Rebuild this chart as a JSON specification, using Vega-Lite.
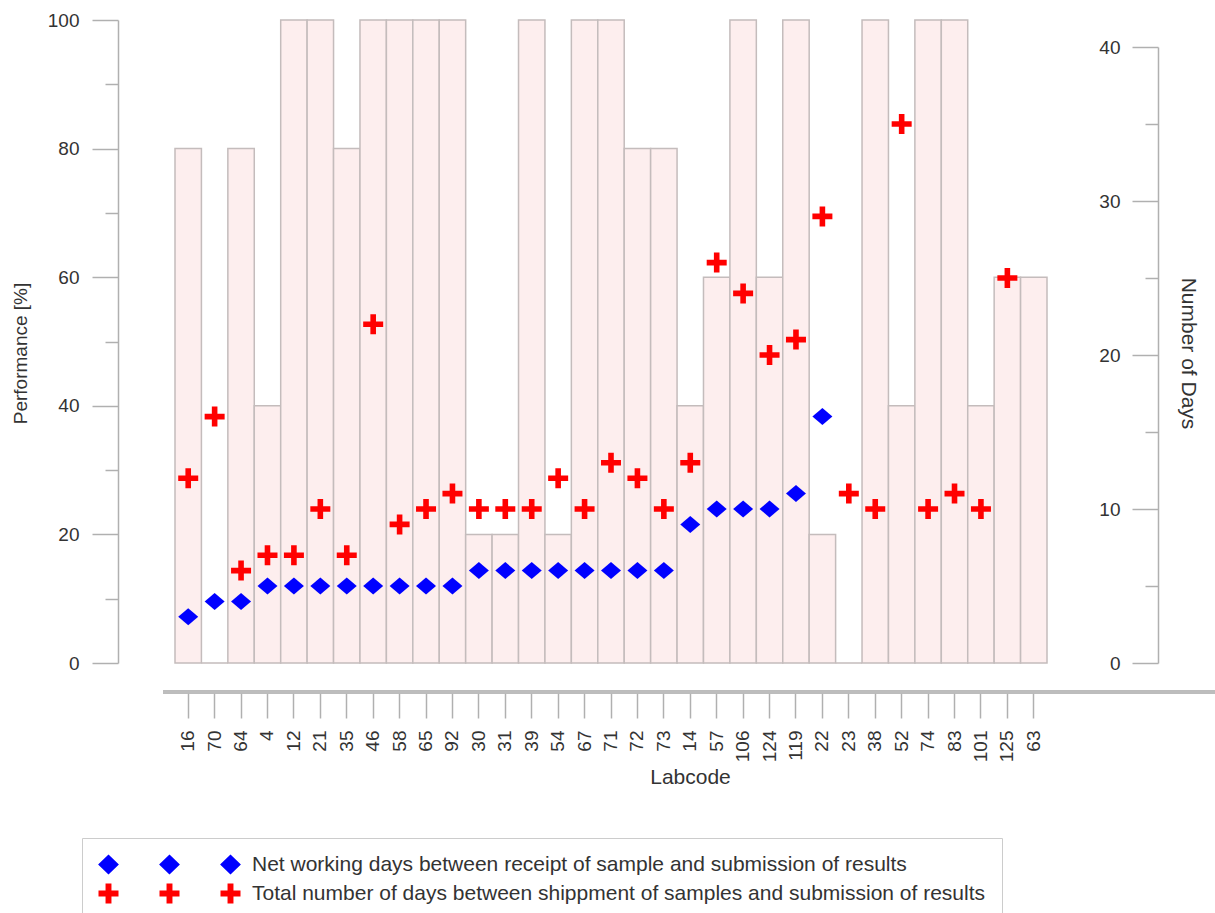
{
  "$schema": "https://vega.github.io/schema/vega-lite/v6.json",
  "autosize": {"type": "none"},
  "padding": {"left": 163, "top": 20, "right": 0, "bottom": 250},
  "width": 1052,
  "height": 643,
  "config": {
    "view": {"stroke": null},
    "font": "Liberation Sans",
    "axis": {"grid": false, "labelFont": "Liberation Sans", "titleFont": "Liberation Sans", "labelColor": "#333333", "titleColor": "#333333", "titleFontWeight": "normal", "domainColor": "#b0b0b0", "tickColor": "#b0b0b0", "domainWidth": 1.5, "tickWidth": 1.5}
  },
  "datasets": {
    "bars": [
      {"lab": "16", "perf": 80}, {"lab": "70", "perf": 0}, {"lab": "64", "perf": 80}, {"lab": "4", "perf": 40},
      {"lab": "12", "perf": 100}, {"lab": "21", "perf": 100}, {"lab": "35", "perf": 80}, {"lab": "46", "perf": 100},
      {"lab": "58", "perf": 100}, {"lab": "65", "perf": 100}, {"lab": "92", "perf": 100}, {"lab": "30", "perf": 20},
      {"lab": "31", "perf": 20}, {"lab": "39", "perf": 100}, {"lab": "54", "perf": 20}, {"lab": "67", "perf": 100},
      {"lab": "71", "perf": 100}, {"lab": "72", "perf": 80}, {"lab": "73", "perf": 80}, {"lab": "14", "perf": 40},
      {"lab": "57", "perf": 60}, {"lab": "106", "perf": 100}, {"lab": "124", "perf": 60}, {"lab": "119", "perf": 100},
      {"lab": "22", "perf": 20}, {"lab": "23", "perf": 0}, {"lab": "38", "perf": 100}, {"lab": "52", "perf": 40},
      {"lab": "74", "perf": 100}, {"lab": "83", "perf": 100}, {"lab": "101", "perf": 40}, {"lab": "125", "perf": 60},
      {"lab": "63", "perf": 60}
    ],
    "points": [
      {"lab": "16", "series": "Net working days between receipt of sample and submission of results", "days": 3},
      {"lab": "70", "series": "Net working days between receipt of sample and submission of results", "days": 4},
      {"lab": "64", "series": "Net working days between receipt of sample and submission of results", "days": 4},
      {"lab": "4", "series": "Net working days between receipt of sample and submission of results", "days": 5},
      {"lab": "12", "series": "Net working days between receipt of sample and submission of results", "days": 5},
      {"lab": "21", "series": "Net working days between receipt of sample and submission of results", "days": 5},
      {"lab": "35", "series": "Net working days between receipt of sample and submission of results", "days": 5},
      {"lab": "46", "series": "Net working days between receipt of sample and submission of results", "days": 5},
      {"lab": "58", "series": "Net working days between receipt of sample and submission of results", "days": 5},
      {"lab": "65", "series": "Net working days between receipt of sample and submission of results", "days": 5},
      {"lab": "92", "series": "Net working days between receipt of sample and submission of results", "days": 5},
      {"lab": "30", "series": "Net working days between receipt of sample and submission of results", "days": 6},
      {"lab": "31", "series": "Net working days between receipt of sample and submission of results", "days": 6},
      {"lab": "39", "series": "Net working days between receipt of sample and submission of results", "days": 6},
      {"lab": "54", "series": "Net working days between receipt of sample and submission of results", "days": 6},
      {"lab": "67", "series": "Net working days between receipt of sample and submission of results", "days": 6},
      {"lab": "71", "series": "Net working days between receipt of sample and submission of results", "days": 6},
      {"lab": "72", "series": "Net working days between receipt of sample and submission of results", "days": 6},
      {"lab": "73", "series": "Net working days between receipt of sample and submission of results", "days": 6},
      {"lab": "14", "series": "Net working days between receipt of sample and submission of results", "days": 9},
      {"lab": "57", "series": "Net working days between receipt of sample and submission of results", "days": 10},
      {"lab": "106", "series": "Net working days between receipt of sample and submission of results", "days": 10},
      {"lab": "124", "series": "Net working days between receipt of sample and submission of results", "days": 10},
      {"lab": "119", "series": "Net working days between receipt of sample and submission of results", "days": 11},
      {"lab": "22", "series": "Net working days between receipt of sample and submission of results", "days": 16},
      {"lab": "16", "series": "Total number of days between shippment of samples and submission of results", "days": 12},
      {"lab": "70", "series": "Total number of days between shippment of samples and submission of results", "days": 16},
      {"lab": "64", "series": "Total number of days between shippment of samples and submission of results", "days": 6},
      {"lab": "4", "series": "Total number of days between shippment of samples and submission of results", "days": 7},
      {"lab": "12", "series": "Total number of days between shippment of samples and submission of results", "days": 7},
      {"lab": "21", "series": "Total number of days between shippment of samples and submission of results", "days": 10},
      {"lab": "35", "series": "Total number of days between shippment of samples and submission of results", "days": 7},
      {"lab": "46", "series": "Total number of days between shippment of samples and submission of results", "days": 22},
      {"lab": "58", "series": "Total number of days between shippment of samples and submission of results", "days": 9},
      {"lab": "65", "series": "Total number of days between shippment of samples and submission of results", "days": 10},
      {"lab": "92", "series": "Total number of days between shippment of samples and submission of results", "days": 11},
      {"lab": "30", "series": "Total number of days between shippment of samples and submission of results", "days": 10},
      {"lab": "31", "series": "Total number of days between shippment of samples and submission of results", "days": 10},
      {"lab": "39", "series": "Total number of days between shippment of samples and submission of results", "days": 10},
      {"lab": "54", "series": "Total number of days between shippment of samples and submission of results", "days": 12},
      {"lab": "67", "series": "Total number of days between shippment of samples and submission of results", "days": 10},
      {"lab": "71", "series": "Total number of days between shippment of samples and submission of results", "days": 13},
      {"lab": "72", "series": "Total number of days between shippment of samples and submission of results", "days": 12},
      {"lab": "73", "series": "Total number of days between shippment of samples and submission of results", "days": 10},
      {"lab": "14", "series": "Total number of days between shippment of samples and submission of results", "days": 13},
      {"lab": "57", "series": "Total number of days between shippment of samples and submission of results", "days": 26},
      {"lab": "106", "series": "Total number of days between shippment of samples and submission of results", "days": 24},
      {"lab": "124", "series": "Total number of days between shippment of samples and submission of results", "days": 20},
      {"lab": "119", "series": "Total number of days between shippment of samples and submission of results", "days": 21},
      {"lab": "22", "series": "Total number of days between shippment of samples and submission of results", "days": 29},
      {"lab": "23", "series": "Total number of days between shippment of samples and submission of results", "days": 11},
      {"lab": "38", "series": "Total number of days between shippment of samples and submission of results", "days": 10},
      {"lab": "52", "series": "Total number of days between shippment of samples and submission of results", "days": 35},
      {"lab": "74", "series": "Total number of days between shippment of samples and submission of results", "days": 10},
      {"lab": "83", "series": "Total number of days between shippment of samples and submission of results", "days": 11},
      {"lab": "101", "series": "Total number of days between shippment of samples and submission of results", "days": 10},
      {"lab": "125", "series": "Total number of days between shippment of samples and submission of results", "days": 25}
    ]
  },
  "layer": [
    {
      "layer": [
        {
          "data": {"name": "bars"},
          "mark": {"type": "bar", "fill": "#fdeeee", "stroke": "#c4bcbc", "strokeWidth": 1.5},
          "encoding": {
            "x": {
              "field": "lab", "type": "nominal", "sort": null,
              "scale": {"domain": ["16","70","64","4","12","21","35","46","58","65","92","30","31","39","54","67","71","72","73","14","57","106","124","119","22","23","38","52","74","83","101","125","63"], "paddingInner": 0, "paddingOuter": 0, "range": [12, 884]},
              "axis": {"title": "Labcode", "orient": "bottom", "offset": 29, "domain": false, "tickSize": 26, "labelAngle": -90, "labelAlign": "right", "labelBaseline": "middle", "labelPadding": 12, "labelFontSize": 19, "titleFontSize": 21, "titleX": 527, "titleY": 85, "titleBaseline": "middle"}
            },
            "y": {
              "field": "perf", "type": "quantitative",
              "scale": {"domain": [0, 100], "nice": false},
              "axis": {"title": "Performance [%]", "orient": "left", "offset": 45, "values": [0,10,20,30,40,50,60,70,80,90,100],
                "tickSize": {"condition": {"test": "datum.value % 20 === 0", "value": 26}, "value": 13},
                "labelExpr": "datum.value % 20 === 0 ? datum.label : ''",
                "labelFontSize": 19, "labelPadding": 13, "titleFontSize": 19, "titleX": -98, "titleY": 333, "titleAngle": -90, "titleAlign": "center", "titleBaseline": "middle"}
            }
          }
        },
        {
          "data": {"name": "bars"},
          "mark": {"type": "rule", "color": "#bdbdbd", "strokeWidth": 2.5},
          "encoding": {"y": {"datum": -4.5, "type": "quantitative"}}
        }
      ]
    },
    {
      "data": {"name": "points"},
      "layer": [
        {
          "mark": {"type": "point", "filled": true, "opacity": 1, "size": 256},
          "encoding": {
            "x": {
              "field": "lab", "type": "nominal", "sort": null,
              "scale": {"domain": ["16","70","64","4","12","21","35","46","58","65","92","30","31","39","54","67","71","72","73","14","57","106","124","119","22","23","38","52","74","83","101","125","63"], "paddingInner": 0, "paddingOuter": 0, "range": [12, 884]}
            },
            "y": {
              "field": "days", "type": "quantitative",
              "scale": {"domain": [0, 40], "nice": false, "range": [643, 27]},
              "axis": {"title": "Number of Days", "orient": "left", "offset": -995, "values": [0,5,10,15,20,25,30,35,40],
                "tickSize": {"condition": {"test": "datum.value % 10 === 0", "value": 26}, "value": 13},
                "labelExpr": "datum.value % 10 === 0 ? datum.label : ''",
                "labelFontSize": 19, "labelPadding": 12, "titleFontSize": 21, "titleX": 29, "titleY": 333, "titleAngle": 90, "titleAlign": "center", "titleBaseline": "middle"}
            },
            "color": {"condition": {"test": "indexof(datum.series, 'Net') === 0", "value": "#0000ff"}, "value": "#ff0000"},
            "shape": {"condition": {"test": "indexof(datum.series, 'Net') === 0", "value": "M0,-1.06L1.25,0L0,1.06L-1.25,0Z"}, "value": "M-0.35,-1.25H0.35V-0.35H1.25V0.35H0.35V1.25H-0.35V0.35H-1.25V-0.35H-0.35Z"}
          }
        },
        {
          "mark": {"type": "point", "filled": true, "opacity": 0, "size": 256},
          "encoding": {
            "color": {
              "field": "series", "type": "nominal",
              "scale": {"domain": ["Net working days between receipt of sample and submission of results", "Total number of days between shippment of samples and submission of results"], "range": ["#0000ff", "#ff0000"]},
              "legend": {
                "title": null, "orient": "none", "legendX": -81, "legendY": 818,
                "padding": 16, "strokeColor": "#cccccc", "fillColor": "#ffffff", "symbolOpacity": 1,
                "symbolSize": 256, "symbolStrokeWidth": 0, "labelOffset": 133, "labelFontSize": 21, "labelColor": "#333333", "labelLimit": 0, "rowPadding": 7
              }
            },
            "shape": {
              "field": "series", "type": "nominal",
              "scale": {"domain": ["Net working days between receipt of sample and submission of results", "Total number of days between shippment of samples and submission of results"], "range": ["M0,-1.25L1.3,0L0,1.25L-1.3,0Z M7.625,-1.25L8.925,0L7.625,1.25L6.325,0Z M15.25,-1.25L16.55,0L15.25,1.25L13.95,0Z", "M-0.37,-1.25H0.37V-0.37H1.25V0.37H0.37V1.25H-0.37V0.37H-1.25V-0.37H-0.37Z M7.255,-1.25H7.995V-0.37H8.875V0.37H7.995V1.25H7.255V0.37H6.375V-0.37H7.255Z M14.88,-1.25H15.62V-0.37H16.5V0.37H15.62V1.25H14.88V0.37H14V-0.37H14.88Z"]},
              "legend": {
                "title": null, "orient": "none", "legendX": -81, "legendY": 818,
                "padding": 16, "strokeColor": "#cccccc", "fillColor": "#ffffff", "symbolOpacity": 1,
                "symbolSize": 256, "symbolStrokeWidth": 0, "labelOffset": 133, "labelFontSize": 21, "labelColor": "#333333", "labelLimit": 0, "rowPadding": 7
              }
            }
          }
        }
      ]
    }
  ],
  "resolve": {"scale": {"y": "independent"}, "axis": {"y": "independent"}}
}
